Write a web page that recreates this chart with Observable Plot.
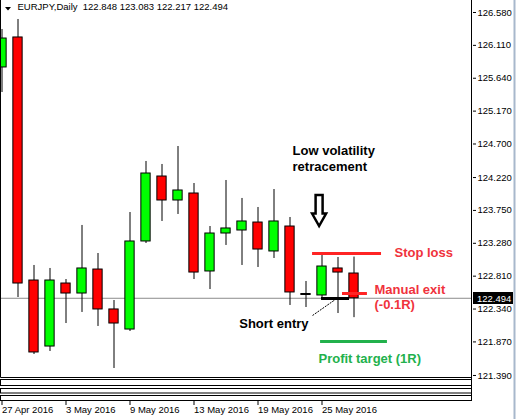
<!DOCTYPE html>
<html><head><meta charset="utf-8">
<script src="https://cdn.jsdelivr.net/npm/d3@7"></script>
<script src="https://cdn.jsdelivr.net/npm/@observablehq/plot@0.6"></script>
<style>
html,body{margin:0;padding:0;background:#fff;}
#chart svg{display:block;}
</style>
</head><body><div id="chart"></div>
<script>
// ---- data ----
const symbol = "EURJPY,Daily";
const dates = ["2016-04-27","2016-04-28","2016-04-29","2016-05-02","2016-05-03","2016-05-04","2016-05-05","2016-05-06",
  "2016-05-09","2016-05-10","2016-05-11","2016-05-12","2016-05-13","2016-05-16","2016-05-17","2016-05-18",
  "2016-05-19","2016-05-20","2016-05-23","2016-05-24","2016-05-25","2016-05-26","2016-05-27"];
const opens  = [125.794,126.223,122.748,121.804,122.705,122.562,122.905,122.334,122.047,123.306,124.235,123.892,123.992,122.877,123.420,123.463,123.577,123.163,123.520,122.555,122.534,122.920,122.848];
const highs  = [126.337,126.480,122.963,122.920,122.762,123.535,123.134,122.462,123.720,124.450,124.407,124.664,124.135,123.520,124.178,123.921,123.792,124.049,123.649,122.734,123.120,123.077,123.083];
const lows   = [125.436,122.505,121.690,121.733,122.133,122.291,122.091,121.490,122.019,123.277,123.592,123.692,122.762,122.619,123.249,122.963,122.934,123.063,122.391,122.362,122.505,122.276,122.217];
const closes = [126.208,122.705,121.719,122.748,122.562,122.920,122.334,122.133,123.306,124.278,123.892,124.035,122.862,123.420,123.492,123.592,123.191,123.592,122.577,122.541,122.948,122.862,122.494];
const yTicks = [126.580,126.110,125.640,125.170,124.700,124.220,123.750,123.280,122.810,122.340,121.870,121.390];
const xTickDates = ["2016-04-27","2016-05-03","2016-05-09","2016-05-13","2016-05-19","2016-05-25"];
const xTickLabels = ["27 Apr 2016","3 May 2016","9 May 2016","13 May 2016","19 May 2016","25 May 2016"];
// annotation levels (price) and spans (bar index)
const stopLoss = 123.134, stopSpan = [19.41, 23.72];
const entry = 122.491, entrySpan = [19.97, 21.72];
const manualExit = 122.562, exitSpan = [21.28, 22.84];
const profitTarget = 121.876, targetSpan = [19.91, 24.09];
const arrowAt = {i: 19.85, top: 123.963, bottom: 123.52};
const notes = [
  {i: 18.16, y: 124.50, text: "Low volatility\nretracement", color: "#000000"},
  {i: 24.53, y: 123.15, text: "Stop loss", color: "#f0323c"},
  {i: 23.28, y: 122.52, text: "Manual exit\n(-0.1R)", color: "#f0323c"},
  {i: 19.16, y: 122.133, text: "Short entry", color: "#000000", anchor: "end"},
  {i: 19.78, y: 121.633, text: "Profit target (1R)", color: "#22b14c"}
];
const entryPointer = {x1: 19.41, y1: 122.248, x2: 20.84, y2: 122.477};

// ---- build ----
const candles = dates.map((d, i) => ({i, date: d, open: opens[i], high: highs[i], low: lows[i], close: closes[i]}));
const last = candles[candles.length - 1];
const header = `${symbol}  ${last.open.toFixed(3)} ${last.high.toFixed(3)} ${last.low.toFixed(3)} ${last.close.toFixed(3)}`;
const xTicks = xTickDates.map(d => dates.indexOf(d));
const FS = "'Liberation Sans', Arial, sans-serif";

const plot = Plot.plot({
  width: 517, height: 419,
  marginLeft: 0, marginRight: 45, marginTop: 0, marginBottom: 18,
  style: {fontFamily: FS, fontSize: "9.5px", background: "#fff", color: "#000"},
  x: {type: "linear", domain: [-0.09375, 29.40625], label: null},
  y: {type: "linear", domain: [121.018, 126.7516], label: null},
  marks: [
    Plot.ruleY([last.close], {stroke: "#8c8c8c", strokeWidth: 1}),
    Plot.ruleX(candles, {x: "i", y1: "low", y2: "high", stroke: "#000", strokeWidth: 1, clip: true}),
    Plot.rect(candles, {x1: d => d.i - 0.29, x2: d => d.i + 0.29,
      y1: "open", y2: "close",
      fill: d => d.close >= d.open ? "#00ff00" : "#ff0000",
      stroke: "#000", strokeWidth: 1, clip: true}),
    // annotation levels
    Plot.ruleY([stopLoss], {x1: stopSpan[0], x2: stopSpan[1], stroke: "#ff2424", strokeWidth: 3}),
    Plot.ruleY([entry], {x1: entrySpan[0], x2: entrySpan[1], stroke: "#000", strokeWidth: 3}),
    Plot.ruleY([manualExit], {x1: exitSpan[0], x2: exitSpan[1], stroke: "#ff2424", strokeWidth: 3}),
    Plot.ruleY([profitTarget], {x1: targetSpan[0], x2: targetSpan[1], stroke: "#22b14c", strokeWidth: 3}),
    Plot.link([entryPointer], {x1: "x1", y1: "y1", x2: "x2", y2: "y2", stroke: "#000", strokeWidth: 1, strokeDasharray: "2,1"}),
    Plot.text(notes.filter(n => !n.anchor), {x: "i", y: "y", text: "text", fill: "color", textAnchor: "start",
      fontWeight: "bold", fontSize: 13, lineHeight: 1.2, fontFamily: FS}),
    Plot.text(notes.filter(n => n.anchor), {x: "i", y: "y", text: "text", fill: "color", textAnchor: "end",
      fontWeight: "bold", fontSize: 13, fontFamily: FS}),
    // header
    Plot.text([header], {frameAnchor: "top-left", dx: 17, dy: 3, lineAnchor: "top", textAnchor: "start",
      fontSize: 9.5, fill: "#000"}),
    // axes
    Plot.axisY(yTicks, {anchor: "right", tickSize: 3, tickPadding: 2, tickFormat: d => d.toFixed(3), fontSize: 9.5}),
    Plot.axisX(xTicks, {anchor: "bottom", tickSize: 4, tickPadding: 1, textAnchor: "start",
      tickFormat: d => xTickLabels[xTicks.indexOf(d)], fontSize: 9.5})
  ]
});
document.getElementById("chart").appendChild(plot);

// ---- decorations (frame, empty indicator panes, price tag, arrow) ----
const svg = d3.select(plot);
const xs = plot.scale("x"), ys = plot.scale("y");
const g = svg.append("g").attr("fill", "none").attr("stroke", "#000").attr("stroke-width", 1);
g.append("path").attr("d", "M0.5,0V377.5H471.5V0");
g.append("path").attr("d", "M471.5,0V401");
[[379.5, 6], [388.5, 4.5], [395.5, 5]].forEach(([y, h]) =>
  g.append("rect").attr("x", 0.5).attr("y", y).attr("width", 471).attr("height", h).attr("fill", "#fff"));
svg.append("line").attr("x1", 514.5).attr("x2", 514.5).attr("y1", 0).attr("y2", 419)
  .attr("stroke", "#a8b8cc").attr("stroke-width", 2);
// last price tag
const py = Math.round(ys.apply(last.close));
svg.append("rect").attr("x", 473).attr("y", py - 6).attr("width", 40).attr("height", 12).attr("fill", "#000");
svg.append("text").attr("x", 477).attr("y", py + 3.5).attr("fill", "#fff").attr("font-size", 9.5)
  .attr("text-anchor", "start").attr("font-family", FS).text(last.close.toFixed(3));
// header triangle
svg.append("path").attr("d", "M5,7H11L8,10.5Z").attr("fill", "#000");
// hollow down arrow
const ax = xs.apply(arrowAt.i), at = ys.apply(arrowAt.top), ab = ys.apply(arrowAt.bottom);
const sh = at + (ab - at) * 0.6;
svg.append("path")
  .attr("d", `M${ax-3.5},${at}H${ax+3.5}V${sh}H${ax+7}L${ax},${ab}L${ax-7},${sh}H${ax-3.5}Z`)
  .attr("fill", "#fff").attr("stroke", "#000").attr("stroke-width", 2.5).attr("stroke-linejoin", "miter");
</script>
</body></html>
